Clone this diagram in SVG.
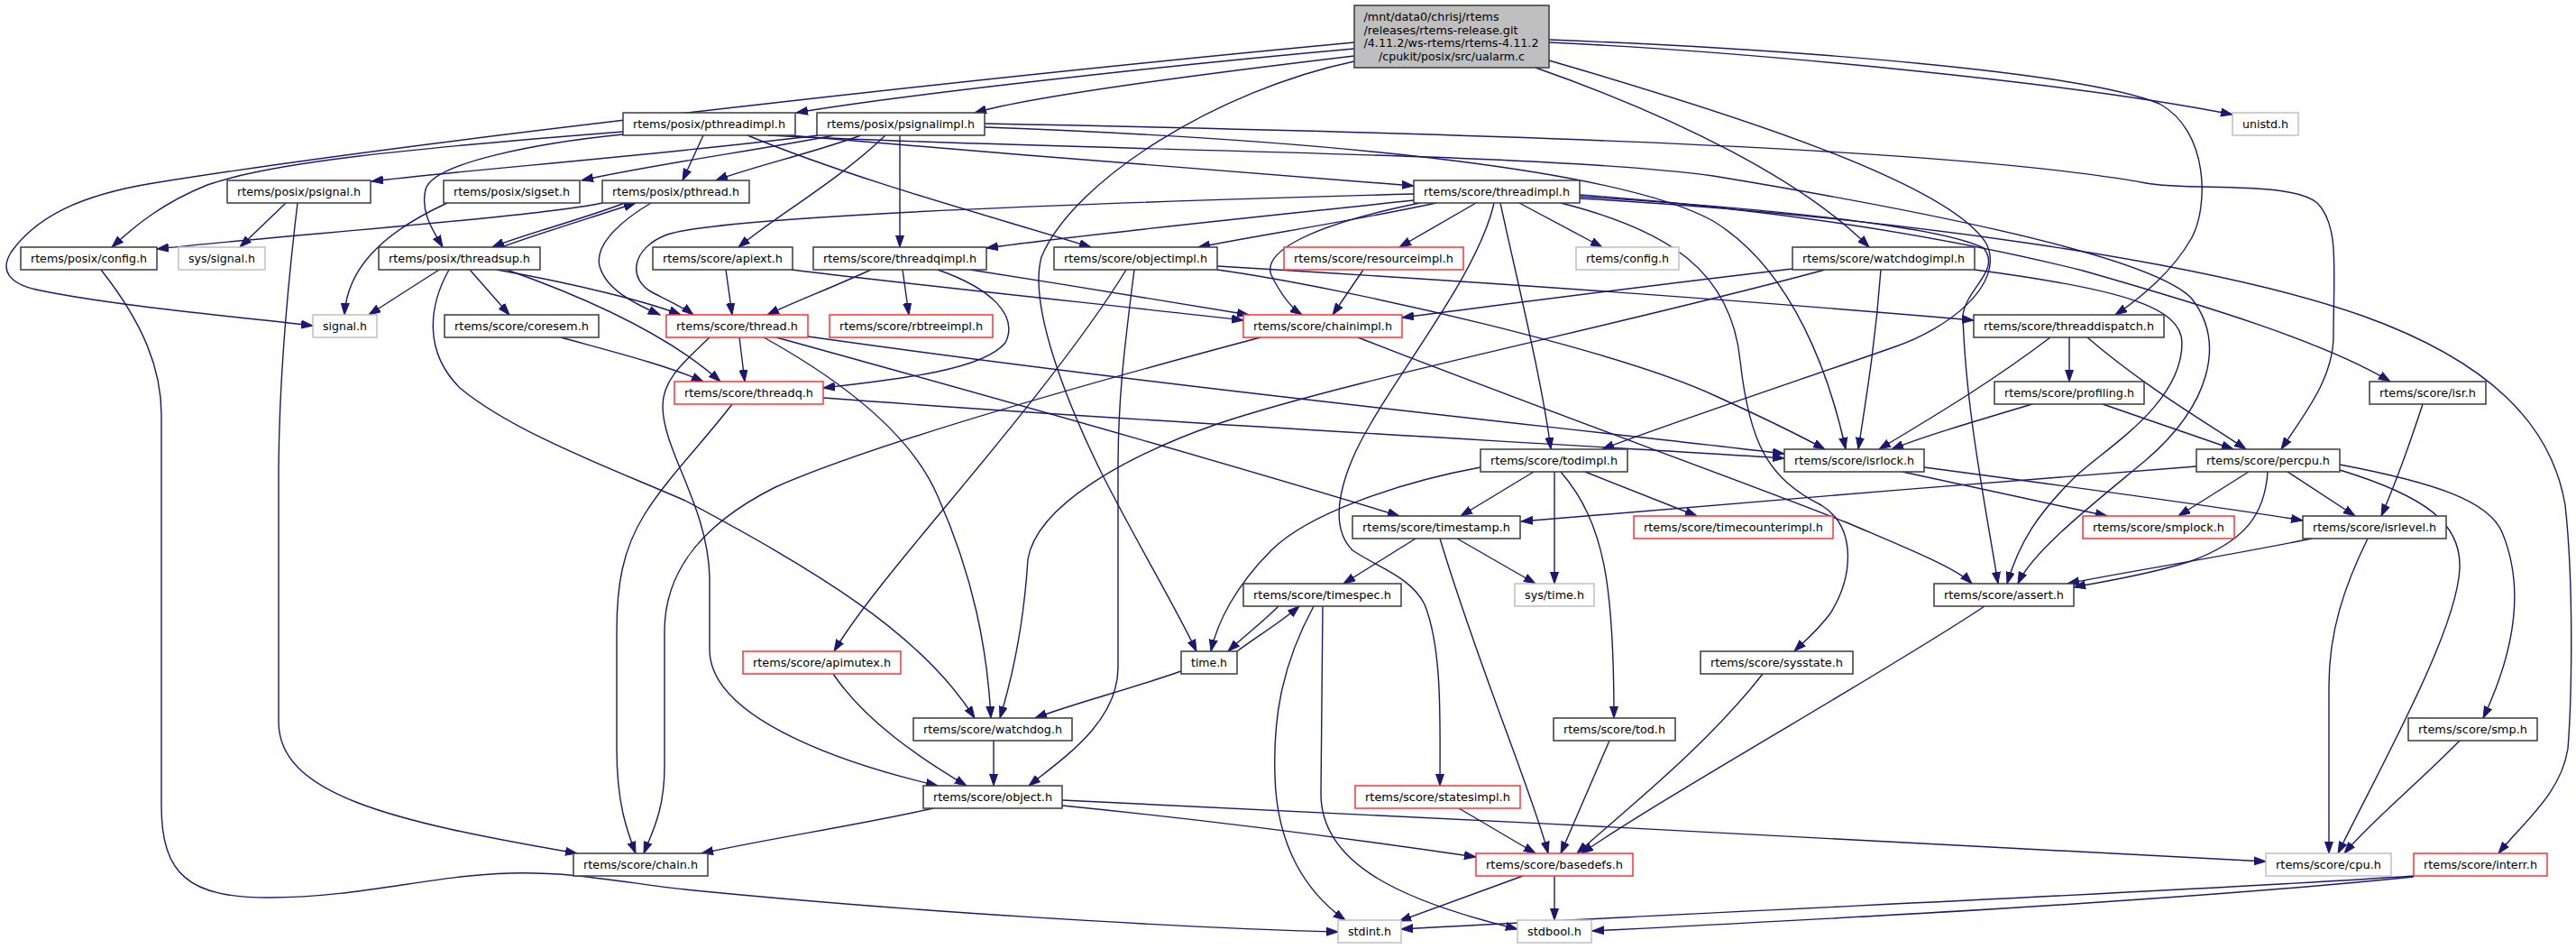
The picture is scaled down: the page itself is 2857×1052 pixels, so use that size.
<svg xmlns="http://www.w3.org/2000/svg" width="2857" height="1052" viewBox="0 0 2857 1052">
<defs>
<style>
.nb{fill:#fff;stroke:#3a3a3a;stroke-width:1.5}
.nr{fill:#fff;stroke:#f33;stroke-width:1.5}
.ng{fill:#fff;stroke:#c0c0c0;stroke-width:1.5}
.nm{fill:#bfbfbf;stroke:#3a3a3a;stroke-width:1.5}
text{font-family:"DejaVu Sans","Liberation Sans",sans-serif;font-size:12.7px;fill:#000}
.c{text-anchor:middle}
.e{fill:none;stroke:#191970;stroke-width:1.4;marker-end:url(#arr)}
</style>
<marker id="arr" markerUnits="userSpaceOnUse" markerWidth="14" markerHeight="10" refX="13" refY="5" orient="auto" viewBox="0 0 14 10">
<path d="M0,0.5 L13,5 L0,9.5 z" fill="#191970" stroke="#191970" stroke-width="1"/>
</marker>
</defs>
<rect width="2857" height="1052" fill="#fff"/>
<g id="edges">
<path class="e" d="M1502,47 C1150,80 500,150 170,203 C90,216 40,240 12,280 C0,300 10,314 40,321 C120,338 250,350 347,361"/>
<path class="e" d="M1502,54 C1300,72 1000,105 883,125"/>
<path class="e" d="M1502,62 C1350,80 1150,105 1081,125"/>
<path class="e" d="M1502,68 C1350,100 1190,200 1155,285 C1140,340 1185,450 1222,525 C1260,600 1305,675 1327,722"/>
<path class="e" d="M1718,47 C1950,58 2300,92 2476,127"/>
<path class="e" d="M1718,44 C2000,55 2310,80 2395,115 C2450,145 2450,230 2430,265 C2410,300 2375,330 2346,349"/>
<path class="e" d="M1718,67 C1900,120 2160,200 2203,270 C2225,315 2160,365 2100,385 C2000,420 1850,470 1777,498"/>
<path class="e" d="M1703,75 C1860,130 2000,200 2073,274"/>
<path class="e" d="M691,146 C450,165 300,180 230,205 C180,225 150,250 124,274"/>
<path class="e" d="M691,149 C600,158 480,180 472,210 C466,235 480,255 491,274"/>
<path class="e" d="M780,150 L757,200"/>
<path class="e" d="M829,150 C950,200 1100,240 1210,274"/>
<path class="e" d="M875,150 C1100,170 1400,192 1568,206"/>
<path class="e" d="M852,150 C1200,168 1700,168 1900,195 C2100,228 2380,280 2430,330 C2470,380 2450,450 2380,510 C2320,560 2255,610 2238,647"/>
<path class="e" d="M907,150 C750,170 500,190 412,201"/>
<path class="e" d="M925,150 C850,165 720,183 645,200"/>
<path class="e" d="M955,150 C900,170 830,186 794,200"/>
<path class="e" d="M982,150 C930,200 860,240 819,274"/>
<path class="e" d="M998,150 L998,274"/>
<path class="e" d="M1092,137 C1500,145 2150,160 2380,203 C2430,212 2540,200 2570,225 C2595,250 2588,300 2588,372 C2588,420 2555,460 2530,498"/>
<path class="e" d="M1092,141 C1500,156 1800,190 1900,245 C1990,300 2030,420 2047,498"/>
<path class="e" d="M317,225 L266,274"/>
<path class="e" d="M330,225 C315,350 309,450 309,530 L309,800 C309,880 430,910 640,946"/>
<path class="e" d="M496,225 C420,260 385,300 382,349"/>
<path class="e" d="M668,225 C600,240 300,262 174,276"/>
<path class="e" d="M693,225 C640,245 580,260 546,274"/>
<path class="e" d="M722,225 C680,250 660,275 665,295 C672,320 700,335 732,349"/>
<path class="e" d="M1568,215 C1200,225 800,240 740,260 C700,275 695,310 725,325 C745,335 760,342 769,349"/>
<path class="e" d="M1568,222 C1400,240 1200,260 1094,275"/>
<path class="e" d="M1593,225 C1500,245 1400,260 1329,274"/>
<path class="e" d="M1575,225 C1450,250 1400,280 1410,305 C1420,325 1430,340 1444,349"/>
<path class="e" d="M1637,225 L1552,274"/>
<path class="e" d="M1657,225 C1640,300 1560,400 1520,470 C1490,520 1470,580 1500,610 C1530,630 1565,640 1580,670 C1600,720 1597,800 1597,871"/>
<path class="e" d="M1664,225 C1680,300 1710,420 1720,498"/>
<path class="e" d="M1685,225 L1777,274"/>
<path class="e" d="M1731,225 C1850,255 1920,300 1930,400 C1940,490 1960,530 2020,560 C2060,585 2055,640 2030,680 C2015,700 2000,712 1990,722"/>
<path class="e" d="M1752,216 C1950,230 2150,260 2310,300 C2450,340 2580,380 2651,423"/>
<path class="e" d="M1752,218 C1950,230 2150,250 2200,275 C2220,300 2180,320 2177,350 C2180,450 2200,550 2216,647"/>
<path class="e" d="M1752,220 C2100,240 2450,290 2620,350 C2760,400 2830,470 2845,560 C2855,650 2852,780 2848,830 C2840,880 2800,910 2771,946"/>
<path class="e" d="M112,299 C160,360 179,410 179,460 L179,893 C179,970 210,995 298,995 C400,995 480,970 565,968 C640,966 700,980 760,986 C1000,1010 1300,1028 1484,1033"/>
<path class="e" d="M556,274 C600,258 660,240 705,225"/>
<path class="e" d="M487,299 L409,349"/>
<path class="e" d="M521,299 L565,349"/>
<path class="e" d="M551,299 C640,315 720,335 755,349"/>
<path class="e" d="M562,299 C650,330 740,370 799,423"/>
<path class="e" d="M498,299 C475,340 470,390 510,430 C570,480 680,520 760,555 C900,630 1020,700 1081,796"/>
<path class="e" d="M805,299 L812,349"/>
<path class="e" d="M878,299 C1050,320 1250,340 1379,355"/>
<path class="e" d="M966,299 C920,320 880,335 851,349"/>
<path class="e" d="M1001,299 L1008,349"/>
<path class="e" d="M1040,299 C1100,320 1130,350 1115,380 C1090,410 1000,420 913,430"/>
<path class="e" d="M1076,299 C1180,315 1300,335 1385,349"/>
<path class="e" d="M1249,299 C1200,380 1100,500 1050,560 C1000,620 950,680 925,722"/>
<path class="e" d="M1258,299 C1245,400 1240,450 1240,520 L1240,740 C1240,800 1180,840 1141,871"/>
<path class="e" d="M1350,295 C1600,310 1900,330 2189,355"/>
<path class="e" d="M1350,299 C1500,320 1800,390 1905,440 C1960,465 2000,485 2024,498"/>
<path class="e" d="M1512,299 L1478,349"/>
<path class="e" d="M1988,298 C1800,320 1650,340 1555,352"/>
<path class="e" d="M2024,299 C1800,360 1500,420 1350,470 C1250,505 1150,560 1140,620 C1135,700 1120,760 1109,796"/>
<path class="e" d="M2086,299 C2080,380 2070,440 2061,498"/>
<path class="e" d="M2190,299 C2350,320 2420,340 2420,380 C2420,450 2330,500 2300,530 C2260,570 2240,600 2226,647"/>
<path class="e" d="M622,374 C680,390 740,405 780,423"/>
<path class="e" d="M820,374 L826,423"/>
<path class="e" d="M787,374 C760,400 735,420 735,450 C735,500 785,560 787,640 L787,720 C787,800 950,850 1040,871"/>
<path class="e" d="M847,374 C930,420 1010,480 1040,550 C1080,640 1095,720 1099,796"/>
<path class="e" d="M861,374 C1100,440 1350,510 1552,572"/>
<path class="e" d="M896,373 C1300,430 1700,470 1979,503"/>
<path class="e" d="M1398,374 C1150,440 950,500 860,540 C770,585 737,640 737,700 L737,850 C737,900 722,925 714,946"/>
<path class="e" d="M1506,374 C1700,450 1950,540 2050,580 C2120,610 2170,630 2187,647"/>
<path class="e" d="M2274,374 C2200,430 2130,470 2084,498"/>
<path class="e" d="M2295,374 L2295,423"/>
<path class="e" d="M2315,374 C2380,430 2450,470 2491,498"/>
<path class="e" d="M812,448 C780,490 740,530 715,570 C690,610 684,650 684,700 L684,830 C684,890 695,920 705,946"/>
<path class="e" d="M913,441 C1300,470 1700,490 1979,508"/>
<path class="e" d="M2254,448 C2180,470 2130,485 2098,498"/>
<path class="e" d="M2332,448 L2477,498"/>
<path class="e" d="M2687,448 C2670,500 2655,540 2641,572"/>
<path class="e" d="M1701,523 L1620,572"/>
<path class="e" d="M1724,523 L1724,647"/>
<path class="e" d="M1731,523 C1780,580 1790,650 1790,796"/>
<path class="e" d="M1758,523 L1882,572"/>
<path class="e" d="M1642,518 C1550,535 1450,570 1410,610 C1370,650 1350,690 1343,722"/>
<path class="e" d="M2110,523 L2337,572"/>
<path class="e" d="M2134,518 C2300,540 2450,560 2554,577"/>
<path class="e" d="M2436,517 C2200,535 1900,560 1687,578"/>
<path class="e" d="M2494,523 L2416,572"/>
<path class="e" d="M2537,523 L2612,572"/>
<path class="e" d="M2515,523 C2512,570 2490,600 2430,622 C2380,638 2330,645 2300,651"/>
<path class="e" d="M2595,521 C2690,550 2730,580 2728,630 C2725,700 2640,850 2593,946"/>
<path class="e" d="M2595,515 C2700,535 2760,555 2775,590 C2800,650 2790,720 2754,796"/>
<path class="e" d="M1570,597 L1490,647"/>
<path class="e" d="M1616,597 L1703,647"/>
<path class="e" d="M1597,597 C1640,740 1700,880 1717,946"/>
<path class="e" d="M2564,597 C2450,620 2350,635 2293,647"/>
<path class="e" d="M2626,597 C2600,650 2583,700 2583,760 L2583,946"/>
<path class="e" d="M1418,672 C1400,690 1380,705 1362,722"/>
<path class="e" d="M1457,672 C1420,740 1412,800 1414,860 C1416,940 1450,990 1492,1020"/>
<path class="e" d="M1467,672 L1465,880 C1465,960 1560,1000 1683,1030"/>
<path class="e" d="M1310,744 C1250,765 1190,780 1148,796"/>
<path class="e" d="M1372,722 C1395,705 1420,690 1441,672"/>
<path class="e" d="M1955,747 C1890,830 1800,900 1749,946"/>
<path class="e" d="M1785,821 L1731,946"/>
<path class="e" d="M1618,896 L1703,946"/>
<path class="e" d="M924,747 C960,800 1020,840 1072,871"/>
<path class="e" d="M1102,821 L1102,871"/>
<path class="e" d="M1035,896 C950,915 850,930 778,946"/>
<path class="e" d="M1178,893 C1350,910 1500,930 1637,950"/>
<path class="e" d="M1178,887 C1600,905 2200,940 2513,955"/>
<path class="e" d="M2201,672 C2100,740 1850,880 1754,946"/>
<path class="e" d="M2728,821 C2680,870 2630,910 2600,946"/>
<path class="e" d="M1689,971 L1552,1021"/>
<path class="e" d="M1724,971 L1724,1020"/>
<path class="e" d="M2677,971 C2400,990 1900,1010 1554,1030"/>
<path class="e" d="M2677,972 C2400,1000 2000,1020 1766,1032"/>
</g>
<g id="n_main"><rect class="nm" x="1502" y="6" width="216" height="69"/>
<text x="1512.5" y="23" textLength="150" lengthAdjust="spacingAndGlyphs">/mnt/data0/chrisj/rtems</text>
<text x="1512.5" y="37.5" textLength="171" lengthAdjust="spacingAndGlyphs">/releases/rtems-release.git</text>
<text x="1512.5" y="52" textLength="194" lengthAdjust="spacingAndGlyphs">/4.11.2/ws-rtems/rtems-4.11.2</text>
<text class="c" x="1610" y="66.5" textLength="162" lengthAdjust="spacingAndGlyphs">/cpukit/posix/src/ualarm.c</text></g>
<g id="n_pthreadimpl"><rect class="nb" x="691" y="125" width="191" height="25"/><text class="c" x="786.5" y="141.5" textLength="169" lengthAdjust="spacingAndGlyphs">rtems/posix/pthreadimpl.h</text></g>
<g id="n_psignalimpl"><rect class="nb" x="906" y="125" width="186" height="25"/><text class="c" x="999" y="141.5" textLength="164" lengthAdjust="spacingAndGlyphs">rtems/posix/psignalimpl.h</text></g>
<g id="n_unistd"><rect class="ng" x="2476" y="125" width="73" height="25"/><text class="c" x="2512.5" y="141.5" textLength="51" lengthAdjust="spacingAndGlyphs">unistd.h</text></g>
<g id="n_psignal"><rect class="nb" x="252" y="200" width="159" height="25"/><text class="c" x="331.5" y="216.5" textLength="137" lengthAdjust="spacingAndGlyphs">rtems/posix/psignal.h</text></g>
<g id="n_sigset"><rect class="nb" x="492" y="200" width="151" height="25"/><text class="c" x="567.5" y="216.5" textLength="129" lengthAdjust="spacingAndGlyphs">rtems/posix/sigset.h</text></g>
<g id="n_pthread"><rect class="nb" x="668" y="200" width="163" height="25"/><text class="c" x="749.5" y="216.5" textLength="141" lengthAdjust="spacingAndGlyphs">rtems/posix/pthread.h</text></g>
<g id="n_threadimpl"><rect class="nb" x="1568" y="200" width="184" height="25"/><text class="c" x="1660" y="216.5" textLength="162" lengthAdjust="spacingAndGlyphs">rtems/score/threadimpl.h</text></g>
<g id="n_posixconfig"><rect class="nb" x="23" y="274" width="151" height="25"/><text class="c" x="98.5" y="290.5" textLength="129" lengthAdjust="spacingAndGlyphs">rtems/posix/config.h</text></g>
<g id="n_syssignal"><rect class="ng" x="198" y="274" width="96" height="25"/><text class="c" x="246" y="290.5" textLength="74" lengthAdjust="spacingAndGlyphs">sys/signal.h</text></g>
<g id="n_threadsup"><rect class="nb" x="420" y="274" width="179" height="25"/><text class="c" x="509.5" y="290.5" textLength="157" lengthAdjust="spacingAndGlyphs">rtems/posix/threadsup.h</text></g>
<g id="n_apiext"><rect class="nb" x="724" y="274" width="155" height="25"/><text class="c" x="801.5" y="290.5" textLength="133" lengthAdjust="spacingAndGlyphs">rtems/score/apiext.h</text></g>
<g id="n_threadqimpl"><rect class="nb" x="902" y="274" width="192" height="25"/><text class="c" x="998" y="290.5" textLength="170" lengthAdjust="spacingAndGlyphs">rtems/score/threadqimpl.h</text></g>
<g id="n_objectimpl"><rect class="nb" x="1169" y="274" width="181" height="25"/><text class="c" x="1259.5" y="290.5" textLength="159" lengthAdjust="spacingAndGlyphs">rtems/score/objectimpl.h</text></g>
<g id="n_resourceimpl"><rect class="nr" x="1424" y="274" width="199" height="25"/><text class="c" x="1523.5" y="290.5" textLength="177" lengthAdjust="spacingAndGlyphs">rtems/score/resourceimpl.h</text></g>
<g id="n_rtemsconfig"><rect class="ng" x="1748" y="274" width="114" height="25"/><text class="c" x="1805" y="290.5" textLength="92" lengthAdjust="spacingAndGlyphs">rtems/config.h</text></g>
<g id="n_watchdogimpl"><rect class="nb" x="1988" y="274" width="202" height="25"/><text class="c" x="2089" y="290.5" textLength="180" lengthAdjust="spacingAndGlyphs">rtems/score/watchdogimpl.h</text></g>
<g id="n_signal"><rect class="ng" x="347" y="349" width="71" height="25"/><text class="c" x="382.5" y="365.5" textLength="49" lengthAdjust="spacingAndGlyphs">signal.h</text></g>
<g id="n_coresem"><rect class="nb" x="493" y="349" width="171" height="25"/><text class="c" x="578.5" y="365.5" textLength="149" lengthAdjust="spacingAndGlyphs">rtems/score/coresem.h</text></g>
<g id="n_thread"><rect class="nr" x="739" y="349" width="157" height="25"/><text class="c" x="817.5" y="365.5" textLength="135" lengthAdjust="spacingAndGlyphs">rtems/score/thread.h</text></g>
<g id="n_rbtreeimpl"><rect class="nr" x="920" y="349" width="181" height="25"/><text class="c" x="1010.5" y="365.5" textLength="159" lengthAdjust="spacingAndGlyphs">rtems/score/rbtreeimpl.h</text></g>
<g id="n_chainimpl"><rect class="nr" x="1379" y="349" width="176" height="25"/><text class="c" x="1467" y="365.5" textLength="154" lengthAdjust="spacingAndGlyphs">rtems/score/chainimpl.h</text></g>
<g id="n_threaddispatch"><rect class="nb" x="2189" y="349" width="211" height="25"/><text class="c" x="2294.5" y="365.5" textLength="189" lengthAdjust="spacingAndGlyphs">rtems/score/threaddispatch.h</text></g>
<g id="n_threadq"><rect class="nr" x="748" y="423" width="165" height="25"/><text class="c" x="830.5" y="439.5" textLength="143" lengthAdjust="spacingAndGlyphs">rtems/score/threadq.h</text></g>
<g id="n_profiling"><rect class="nb" x="2212" y="423" width="166" height="25"/><text class="c" x="2295" y="439.5" textLength="144" lengthAdjust="spacingAndGlyphs">rtems/score/profiling.h</text></g>
<g id="n_isr"><rect class="nb" x="2628" y="423" width="129" height="25"/><text class="c" x="2692.5" y="439.5" textLength="107" lengthAdjust="spacingAndGlyphs">rtems/score/isr.h</text></g>
<g id="n_todimpl"><rect class="nb" x="1642" y="498" width="163" height="25"/><text class="c" x="1723.5" y="514.5" textLength="141" lengthAdjust="spacingAndGlyphs">rtems/score/todimpl.h</text></g>
<g id="n_isrlock"><rect class="nb" x="1979" y="498" width="155" height="25"/><text class="c" x="2056.5" y="514.5" textLength="133" lengthAdjust="spacingAndGlyphs">rtems/score/isrlock.h</text></g>
<g id="n_percpu"><rect class="nb" x="2436" y="498" width="159" height="25"/><text class="c" x="2515.5" y="514.5" textLength="137" lengthAdjust="spacingAndGlyphs">rtems/score/percpu.h</text></g>
<g id="n_timestamp"><rect class="nb" x="1500" y="572" width="186" height="25"/><text class="c" x="1593" y="588.5" textLength="164" lengthAdjust="spacingAndGlyphs">rtems/score/timestamp.h</text></g>
<g id="n_timecounterimpl"><rect class="nr" x="1812" y="572" width="221" height="25"/><text class="c" x="1922.5" y="588.5" textLength="199" lengthAdjust="spacingAndGlyphs">rtems/score/timecounterimpl.h</text></g>
<g id="n_smplock"><rect class="nr" x="2310" y="572" width="168" height="25"/><text class="c" x="2394" y="588.5" textLength="146" lengthAdjust="spacingAndGlyphs">rtems/score/smplock.h</text></g>
<g id="n_isrlevel"><rect class="nb" x="2554" y="572" width="159" height="25"/><text class="c" x="2633.5" y="588.5" textLength="137" lengthAdjust="spacingAndGlyphs">rtems/score/isrlevel.h</text></g>
<g id="n_timespec"><rect class="nb" x="1379" y="647" width="175" height="25"/><text class="c" x="1466.5" y="663.5" textLength="153" lengthAdjust="spacingAndGlyphs">rtems/score/timespec.h</text></g>
<g id="n_systime"><rect class="ng" x="1680" y="647" width="88" height="25"/><text class="c" x="1724" y="663.5" textLength="66" lengthAdjust="spacingAndGlyphs">sys/time.h</text></g>
<g id="n_assert"><rect class="nb" x="2145" y="647" width="155" height="25"/><text class="c" x="2222.5" y="663.5" textLength="133" lengthAdjust="spacingAndGlyphs">rtems/score/assert.h</text></g>
<g id="n_apimutex"><rect class="nr" x="824" y="722" width="175" height="25"/><text class="c" x="911.5" y="738.5" textLength="153" lengthAdjust="spacingAndGlyphs">rtems/score/apimutex.h</text></g>
<g id="n_time"><rect class="nb" x="1310" y="722" width="62" height="25"/><text class="c" x="1341" y="738.5" textLength="40" lengthAdjust="spacingAndGlyphs">time.h</text></g>
<g id="n_sysstate"><rect class="nb" x="1886" y="722" width="169" height="25"/><text class="c" x="1970.5" y="738.5" textLength="147" lengthAdjust="spacingAndGlyphs">rtems/score/sysstate.h</text></g>
<g id="n_watchdog"><rect class="nb" x="1013" y="796" width="176" height="25"/><text class="c" x="1101" y="812.5" textLength="154" lengthAdjust="spacingAndGlyphs">rtems/score/watchdog.h</text></g>
<g id="n_tod"><rect class="nb" x="1723" y="796" width="135" height="25"/><text class="c" x="1790.5" y="812.5" textLength="113" lengthAdjust="spacingAndGlyphs">rtems/score/tod.h</text></g>
<g id="n_smp"><rect class="nb" x="2671" y="796" width="143" height="25"/><text class="c" x="2742.5" y="812.5" textLength="121" lengthAdjust="spacingAndGlyphs">rtems/score/smp.h</text></g>
<g id="n_object"><rect class="nb" x="1024" y="871" width="154" height="25"/><text class="c" x="1101" y="887.5" textLength="132" lengthAdjust="spacingAndGlyphs">rtems/score/object.h</text></g>
<g id="n_statesimpl"><rect class="nr" x="1503" y="871" width="183" height="25"/><text class="c" x="1594.5" y="887.5" textLength="161" lengthAdjust="spacingAndGlyphs">rtems/score/statesimpl.h</text></g>
<g id="n_chain"><rect class="nb" x="636" y="946" width="149" height="25"/><text class="c" x="710.5" y="962.5" textLength="127" lengthAdjust="spacingAndGlyphs">rtems/score/chain.h</text></g>
<g id="n_basedefs"><rect class="nr" x="1637" y="946" width="174" height="25"/><text class="c" x="1724" y="962.5" textLength="152" lengthAdjust="spacingAndGlyphs">rtems/score/basedefs.h</text></g>
<g id="n_cpu"><rect class="ng" x="2513" y="946" width="139" height="25"/><text class="c" x="2582.5" y="962.5" textLength="117" lengthAdjust="spacingAndGlyphs">rtems/score/cpu.h</text></g>
<g id="n_interr"><rect class="nr" x="2677" y="946" width="148" height="25"/><text class="c" x="2751" y="962.5" textLength="126" lengthAdjust="spacingAndGlyphs">rtems/score/interr.h</text></g>
<g id="n_stdint"><rect class="ng" x="1484" y="1020" width="70" height="25"/><text class="c" x="1519" y="1036.5" textLength="48" lengthAdjust="spacingAndGlyphs">stdint.h</text></g>
<g id="n_stdbool"><rect class="ng" x="1683" y="1020" width="82" height="25"/><text class="c" x="1724" y="1036.5" textLength="60" lengthAdjust="spacingAndGlyphs">stdbool.h</text></g>
</svg>
